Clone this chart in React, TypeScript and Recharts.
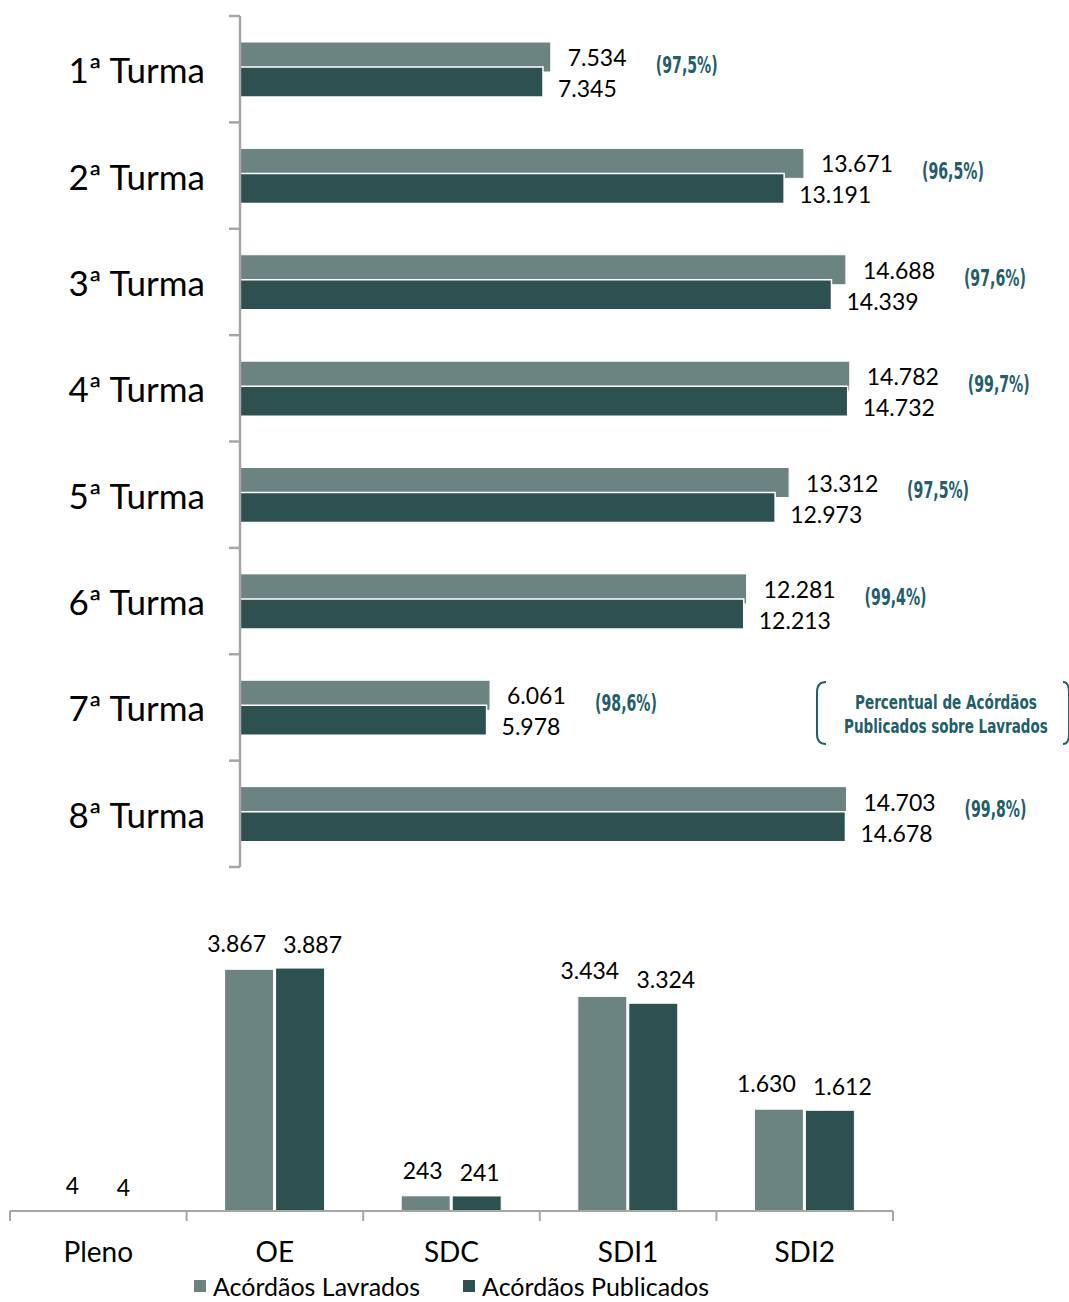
import React, { useLayoutEffect, useRef } from 'react';
import { BarChart, Bar, XAxis, YAxis, LabelList, Legend } from 'recharts';

const turmas = ['1ª Turma', '2ª Turma', '3ª Turma', '4ª Turma', '5ª Turma', '6ª Turma', '7ª Turma', '8ª Turma'];
const turmaLavrados = [7534, 13671, 14688, 14782, 13312, 12281, 6061, 14703];
const turmaPublicados = [7345, 13191, 14339, 14732, 12973, 12213, 5978, 14678];
const turmaPercentual = ['97,5%', '96,5%', '97,6%', '99,7%', '97,5%', '99,4%', '98,6%', '99,8%'];

const orgaos = ['Pleno', 'OE', 'SDC', 'SDI1', 'SDI2'];
const orgaoLavrados = [4, 3867, 243, 3434, 1630];
const orgaoPublicados = [4, 3887, 241, 3324, 1612];

const LAVRADOS = '#6B8482';
const PUBLICADOS = '#2D5051';
const AXIS = '#A6A6A6';
const TEAL = '#235E6B';
const FONT = 'Lato, "Open Sans", sans-serif';
const NARROW = '"Liberation Sans Narrow", "DejaVu Sans", Roboto, sans-serif';

const fmt = (n: number) => String(n).replace(/\B(?=(\d{3})+(?!\d))/g, '.');
// rough width of a 23px Lato number label
const numWidth = (s: string) => (s.length - (s.includes('.') ? 1 : 0)) * 13 + (s.includes('.') ? 6 : 0);

const turmaData = turmas.map((turma, i) => ({
  turma,
  lavrados: turmaLavrados[i],
  publicados: turmaPublicados[i],
  pct: turmaPercentual[i],
}));

const orgaoData = orgaos.map((name, i) => ({
  name,
  lavrados: orgaoLavrados[i],
  publicados: orgaoPublicados[i],
}));

// top chart geometry
const TOP_H = 880;
const TOP_M = { top: 16, right: 4, left: 10, bottom: 13 };
const TOP_PLOT_LEFT = 240;
const TOP_BAND = (TOP_H - TOP_M.top - TOP_M.bottom) / turmas.length;

// bottom chart geometry
const BOT_H = 402;
const BOT_AXIS_Y = 311;
const BOT_BAND = (903 - 20) / orgaos.length;

const box = (p: any) => {
  const vb = p.viewBox || {};
  return {
    x: p.x ?? vb.x,
    y: p.y ?? vb.y,
    width: p.width ?? vb.width,
    height: p.height ?? vb.height,
  };
};

// bold text squeezed horizontally to a given width (no condensed font installed)
const NarrowText = ({ x, y, width, size, children }: any) => {
  const ref = useRef<SVGTextElement>(null);
  useLayoutEffect(() => {
    const el = ref.current;
    if (!el) return;
    const natural = el.getComputedTextLength();
    if (natural > 0) el.setAttribute('transform', `translate(${x} ${y}) scale(${width / natural} 1)`);
  });
  return (
    <text
      ref={ref}
      x={0}
      y={0}
      transform={`translate(${x} ${y})`}
      dominantBaseline="central"
      fontSize={size}
      fontWeight="bold"
      fontFamily={NARROW}
      fill={TEAL}
    >
      {children}
    </text>
  );
};

const TurmaTick = (props: any) => {
  const { y, payload, index } = props;
  const top = y - TOP_BAND / 2;
  const bottom = y + TOP_BAND / 2;
  return (
    <g>
      <text x={TOP_PLOT_LEFT - 35} y={y} textAnchor="end" dominantBaseline="central" fontSize={35} fontFamily={FONT} fill="#000">
        {payload.value}
      </text>
      <line x1={TOP_PLOT_LEFT - 11} x2={TOP_PLOT_LEFT} y1={top} y2={top} stroke={AXIS} strokeWidth={2.5} />
      {index === turmas.length - 1 && (
        <line x1={TOP_PLOT_LEFT - 11} x2={TOP_PLOT_LEFT} y1={bottom} y2={bottom} stroke={AXIS} strokeWidth={2.5} />
      )}
    </g>
  );
};

const LavradoLabel = (props: any) => {
  const { x, y, width, height } = box(props);
  return (
    <text x={x + width + 17} y={y + height / 2} dominantBaseline="central" fontSize={23} fontFamily={FONT} fill="#000">
      {fmt(props.value)}
    </text>
  );
};

const PublicadoLabel = (props: any) => {
  const { x, y, width, height } = box(props);
  return (
    <text x={x + width + 15} y={y + height / 2 + 6} dominantBaseline="central" fontSize={23} fontFamily={FONT} fill="#000">
      {fmt(props.value)}
    </text>
  );
};

const PctLabel = (props: any) => {
  const { x, y, width } = box(props);
  const w = numWidth(fmt(turmaLavrados[props.index] ?? 0));
  return (
    <NarrowText x={x + width + 17 + w + 30} y={y + 23} width={62} size={23}>
      ({props.value})
    </NarrowText>
  );
};

const OrgaoTick = (props: any) => {
  const { x, payload, index } = props;
  const left = x - BOT_BAND / 2;
  const right = x + BOT_BAND / 2;
  return (
    <g>
      <text x={x} y={BOT_AXIS_Y + 40} textAnchor="middle" dominantBaseline="central" fontSize={28} fontFamily={FONT} fill="#000">
        {payload.value}
      </text>
      <line x1={left} x2={left} y1={BOT_AXIS_Y} y2={BOT_AXIS_Y + 10} stroke={AXIS} strokeWidth={2} />
      {index === orgaos.length - 1 && (
        <line x1={right} x2={right} y1={BOT_AXIS_Y} y2={BOT_AXIS_Y + 10} stroke={AXIS} strokeWidth={2} />
      )}
    </g>
  );
};

// labels centred on the bar, pushed apart when wider than the bar
const makeOrgaoLabel = (dir: number, dy: number) => (props: any) => {
  const { x, y, width } = box(props);
  const txt = fmt(props.value);
  const shift = Math.max(0, (numWidth(txt) - width) / 2 + 8);
  return (
    <text x={x + width / 2 + dir * shift} y={y - dy} textAnchor="middle" dominantBaseline="central" fontSize={23} fontFamily={FONT} fill="#000">
      {txt}
    </text>
  );
};
const OrgaoLavradoLabel = makeOrgaoLabel(-1, 26);
const OrgaoPublicadoLabel = makeOrgaoLabel(1, 24);

const LegendContent = () => (
  <div style={{ display: 'flex', justifyContent: 'center', gap: 43, fontFamily: FONT, fontSize: 25, lineHeight: '28px', color: '#000' }}>
    {[
      ['Acórdãos Lavrados', LAVRADOS],
      ['Acórdãos Publicados', PUBLICADOS],
    ].map(([label, color]) => (
      <div key={label} style={{ display: 'flex', alignItems: 'center', gap: 7 }}>
        <span style={{ width: 12, height: 12, background: color, display: 'inline-block' }} />
        <span>{label}</span>
      </div>
    ))}
  </div>
);

const PctNote = () => (
  <svg width={259} height={70} style={{ position: 'absolute', left: 810, top: 678 }}>
    <path d="M16 4 Q7 4 7 14 L7 56 Q7 66 16 66" fill="none" stroke={TEAL} strokeWidth={2} />
    <path d="M253 4 Q259 4 259 14 L259 56 Q259 66 253 66" fill="none" stroke={TEAL} strokeWidth={2} />
    <NarrowText x={45} y={24} width={182} size={20}>
      Percentual de Acórdãos
    </NarrowText>
    <NarrowText x={34} y={48} width={204} size={20}>
      Publicados sobre Lavrados
    </NarrowText>
  </svg>
);

export default function App() {
  return (
    <div style={{ position: 'absolute', left: 0, top: 0, width: 1069, height: 1302, background: '#fff', overflow: 'hidden' }}>
      <div style={{ position: 'absolute', left: 0, top: 0 }}>
        <BarChart width={1069} height={TOP_H} data={turmaData} layout="vertical" margin={TOP_M} barSize={30} barGap={-5}>
          <XAxis type="number" hide domain={[0, 20000]} />
          <YAxis
            type="category"
            dataKey="turma"
            width={230}
            axisLine={{ stroke: AXIS, strokeWidth: 2.5 }}
            tickLine={false}
            tick={<TurmaTick />}
            interval={0}
          />
          <Bar dataKey="lavrados" fill={LAVRADOS} stroke="#fff" strokeWidth={1} isAnimationActive={false}>
            <LabelList dataKey="lavrados" content={<LavradoLabel />} />
            <LabelList dataKey="pct" content={<PctLabel />} />
          </Bar>
          <Bar dataKey="publicados" fill={PUBLICADOS} stroke="#fff" strokeWidth={1.5} isAnimationActive={false}>
            <LabelList dataKey="publicados" content={<PublicadoLabel />} />
          </Bar>
        </BarChart>
      </div>
      <PctNote />
      <div style={{ position: 'absolute', left: 0, top: 900 }}>
        <BarChart width={903} height={BOT_H} data={orgaoData} margin={{ top: 61, right: 10, left: 10, bottom: 0 }} barSize={49} barGap={2}>
          <XAxis
            dataKey="name"
            height={61}
            axisLine={{ stroke: AXIS, strokeWidth: 2 }}
            tickLine={false}
            tick={<OrgaoTick />}
            interval={0}
          />
          <YAxis hide domain={[0, 4000]} />
          <Legend verticalAlign="bottom" height={30} content={<LegendContent />} />
          <Bar dataKey="lavrados" fill={LAVRADOS} stroke="#fff" strokeWidth={1} isAnimationActive={false}>
            <LabelList dataKey="lavrados" content={<OrgaoLavradoLabel />} />
          </Bar>
          <Bar dataKey="publicados" fill={PUBLICADOS} stroke="#fff" strokeWidth={1} isAnimationActive={false}>
            <LabelList dataKey="publicados" content={<OrgaoPublicadoLabel />} />
          </Bar>
        </BarChart>
      </div>
    </div>
  );
}
